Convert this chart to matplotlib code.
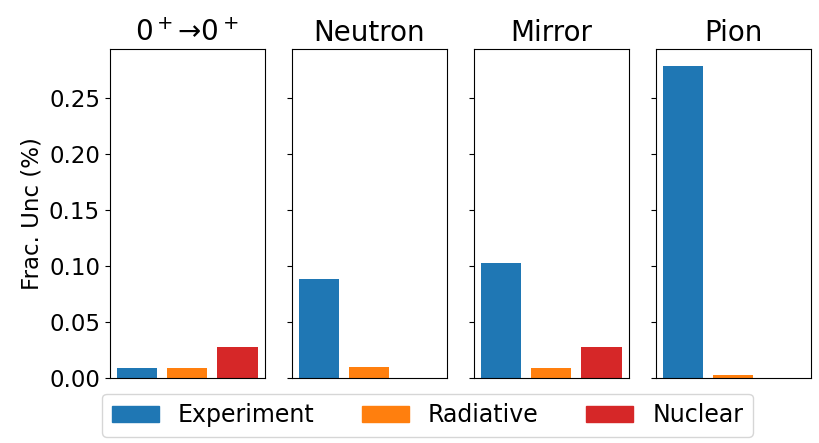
import numpy as np
import matplotlib
matplotlib.use('Agg')
import matplotlib.pyplot as plt

# fractional uncertainty budget per extraction channel
channels = [r'$0^+$→$0^+$', 'Neutron', 'Mirror', 'Pion']
sources = ['Experiment', 'Radiative', 'Nuclear']
experiment = [0.0088, 0.088, 0.103, 0.279]
radiative = [0.0088, 0.0097, 0.0089, 0.0027]
nuclear = [0.0275, 0.0, 0.0275, 0.0]
colors = ['tab:blue', 'tab:orange', 'tab:red']

plt.rcParams['font.size'] = 16

fig, axes = plt.subplots(1, 4, sharey=True, figsize=(8.19, 4.43), dpi=100)
x = np.arange(len(sources))
for i, ax in enumerate(axes):
    vals = [experiment[i], radiative[i], nuclear[i]]
    bars = ax.bar(x, vals, color=colors, width=0.8)
    ax.set_xticks([])
    ax.set_title(channels[i], fontsize=20)
    ax.tick_params(axis='y', labelsize=16.5)

axes[0].set_ylabel('Frac. Unc (%)', fontsize=16.5)
axes[0].set_ylim(0, 0.294)

handles = [plt.Rectangle((0, 0), 1, 1, color=c) for c in colors]
fig.legend(handles, sources, loc='lower center', ncol=3, fontsize=17,
           bbox_to_anchor=(0.522, -0.012))
fig.subplots_adjust(left=0.134, right=0.99, top=0.889, bottom=0.147, wspace=0.175)
fig.savefig('out.png', dpi=100)
